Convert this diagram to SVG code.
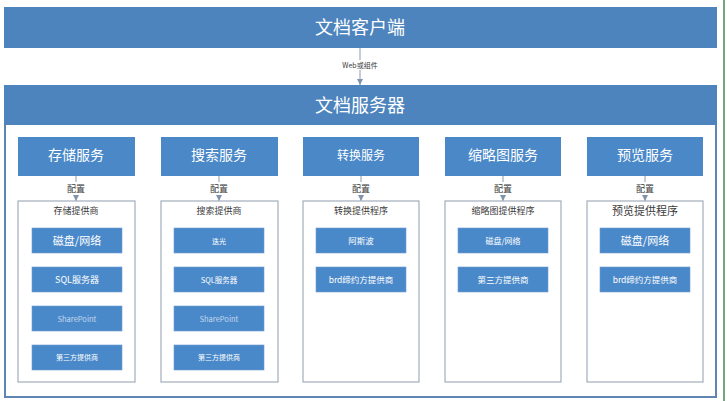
<svg xmlns="http://www.w3.org/2000/svg" width="727" height="401" viewBox="0 0 727 401">
<defs>
<marker id="arr" viewBox="0 0 6 6" refX="6" refY="3" markerWidth="6" markerHeight="6" markerUnits="userSpaceOnUse" orient="auto">
<path d="M0,0 L6,3 L0,6 Z" fill="#7f93ad"/>
</marker>
<style>
.bar{fill:#4d84bd;}
.svc{fill:#4a88c8;}
.item{fill:#4a89c9;stroke:#6b9bd0;stroke-width:0.6;}
.prov{fill:#ffffff;stroke:#a3adbb;stroke-width:1.2;}
.frame{fill:#ffffff;stroke:#5f86b3;stroke-width:2;}
.t{font-family:"Noto Sans CJK SC","Microsoft YaHei",sans-serif;text-anchor:middle;}
.w{fill:#ffffff;}
.d{fill:#3a3a3a;}
.faint{fill:#c4d8ee;}
.conn{stroke:#8a9bb2;stroke-width:1;fill:none;}
</style>
</defs>
<rect x="0" y="0" width="727" height="401" fill="#ffffff"/>
<line x1="724" y1="0" x2="724" y2="401" stroke="#79a379" stroke-width="2"/>

<g id="client">
<rect class="bar" x="4" y="7" width="713" height="41"/>
<text class="t w" x="360" y="34" font-size="18">文档客户端</text>
</g>

<g id="server">
<rect class="frame" x="5" y="123" width="711" height="274"/>
<rect class="bar" x="4" y="85" width="713" height="40"/>
<text class="t w" x="360" y="112" font-size="18">文档服务器</text>
</g>

<g id="connectors">
<path class="conn" d="M360,48 V60"/>
<path class="conn" d="M360,70 V85" marker-end="url(#arr)"/>
<text class="t d" x="360" y="67.5" font-size="7">Web或组件</text>
<path class="conn" d="M76,176 V182"/><path class="conn" d="M76,195 V201" marker-end="url(#arr)"/>
<path class="conn" d="M219,176 V182"/><path class="conn" d="M219,195 V201" marker-end="url(#arr)"/>
<path class="conn" d="M361,176 V182"/><path class="conn" d="M361,195 V201" marker-end="url(#arr)"/>
<path class="conn" d="M503,176 V182"/><path class="conn" d="M503,195 V201" marker-end="url(#arr)"/>
<path class="conn" d="M645,176 V182"/><path class="conn" d="M645,195 V201" marker-end="url(#arr)"/>
<text class="t d" x="76" y="191.5" font-size="9">配置</text>
<text class="t d" x="219" y="191.5" font-size="9">配置</text>
<text class="t d" x="361" y="191.5" font-size="9">配置</text>
<text class="t d" x="503" y="191.5" font-size="9">配置</text>
<text class="t d" x="645" y="191.5" font-size="9">配置</text>
</g>

<g id="storage">
<rect class="svc" x="18" y="137" width="117" height="39"/>
<text class="t w" x="76" y="160" font-size="14">存储服务</text>
<rect class="prov" x="18" y="201" width="117" height="181"/>
<text class="t d" x="76" y="214" font-size="9">存储提供商</text>
<rect class="item" x="32" y="228" width="90" height="25"/>
<text class="t w" x="77" y="244.5" font-size="11">磁盘/网络</text>
<rect class="item" x="32" y="267" width="90" height="25"/>
<text class="t w" x="77" y="282.5" font-size="9">SQL服务器</text>
<rect class="item" x="32" y="306" width="90" height="25"/>
<text class="t faint" x="77" y="321.5" font-size="7.5">SharePoint</text>
<rect class="item" x="32" y="345" width="90" height="25"/>
<text class="t w" x="77" y="360" font-size="7">第三方提供商</text>
</g>

<g id="search">
<rect class="svc" x="161" y="137" width="117" height="39"/>
<text class="t w" x="219" y="160" font-size="14">搜索服务</text>
<rect class="prov" x="161" y="201" width="117" height="181"/>
<text class="t d" x="219" y="214" font-size="9">搜索提供商</text>
<rect class="item" x="174" y="228" width="90" height="25"/>
<text class="t w" x="219" y="243.5" font-size="7">迭光</text>
<rect class="item" x="174" y="267" width="90" height="25"/>
<text class="t w" x="219" y="282.5" font-size="7.5">SQL服务器</text>
<rect class="item" x="174" y="306" width="90" height="25"/>
<text class="t faint" x="219" y="321.5" font-size="7.5">SharePoint</text>
<rect class="item" x="174" y="345" width="90" height="25"/>
<text class="t w" x="219" y="360" font-size="7">第三方提供商</text>
</g>

<g id="convert">
<rect class="svc" x="303" y="137" width="116" height="39"/>
<text class="t w" x="361" y="160" font-size="12">转换服务</text>
<rect class="prov" x="303" y="201" width="116" height="181"/>
<text class="t d" x="361" y="214" font-size="9">转换提供程序</text>
<rect class="item" x="316" y="228" width="90" height="25"/>
<text class="t w" x="361" y="244" font-size="8.5">阿斯波</text>
<rect class="item" x="316" y="267" width="90" height="25"/>
<text class="t w" x="361" y="282.5" font-size="8.5">brd缔约方提供商</text>
</g>

<g id="thumbnail">
<rect class="svc" x="445" y="137" width="116" height="39"/>
<text class="t w" x="503" y="160" font-size="14">缩略图服务</text>
<rect class="prov" x="445" y="201" width="116" height="181"/>
<text class="t d" x="503" y="214" font-size="9">缩略图提供程序</text>
<rect class="item" x="458" y="228" width="90" height="25"/>
<text class="t w" x="503" y="243.5" font-size="8">磁盘/网络</text>
<rect class="item" x="458" y="267" width="90" height="25"/>
<text class="t w" x="503" y="282.5" font-size="8.5">第三方提供商</text>
</g>

<g id="preview">
<rect class="svc" x="587" y="137" width="116" height="39"/>
<text class="t w" x="645" y="160" font-size="14">预览服务</text>
<rect class="prov" x="587" y="201" width="116" height="181"/>
<text class="t d" x="645" y="215" font-size="11">预览提供程序</text>
<rect class="item" x="600" y="228" width="90" height="25"/>
<text class="t w" x="645" y="244.5" font-size="11">磁盘/网络</text>
<rect class="item" x="600" y="267" width="90" height="25"/>
<text class="t w" x="645" y="282.5" font-size="8.5">brd缔约方提供商</text>
</g>
</svg>
